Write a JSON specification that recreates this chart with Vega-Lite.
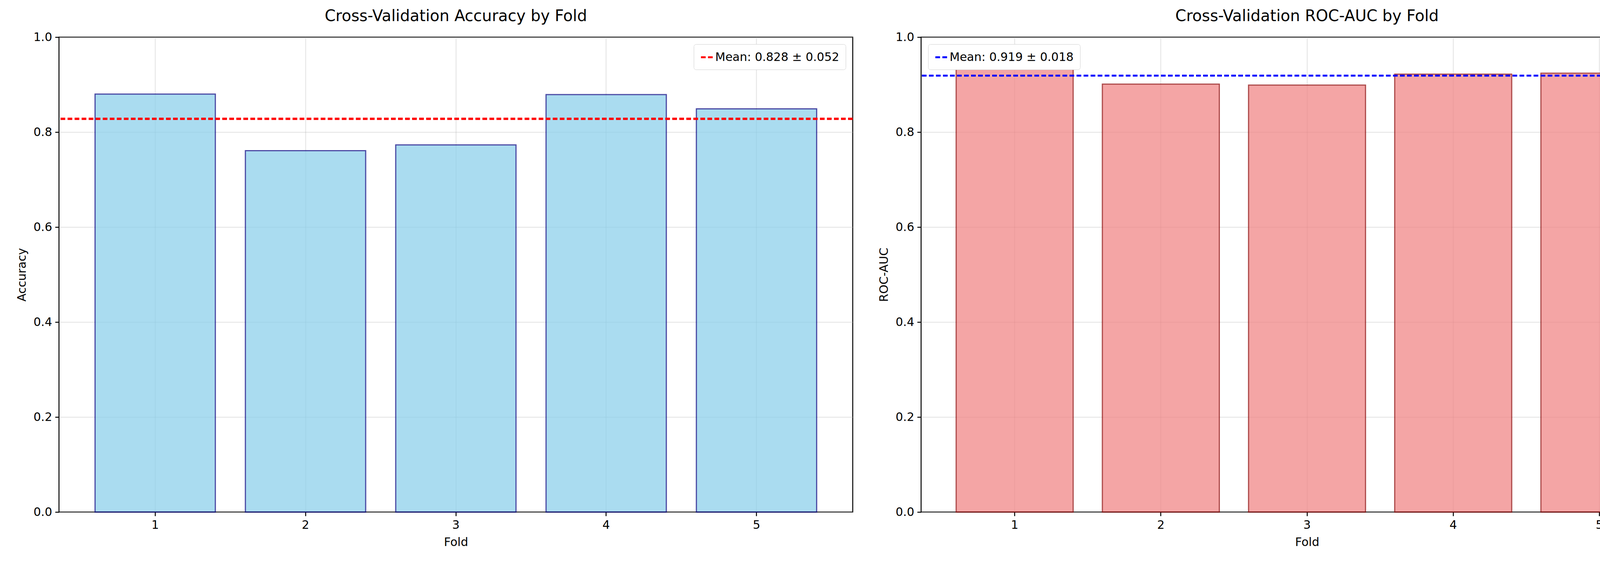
{
  "$schema": "https://vega.github.io/schema/vega-lite/v6.json",
  "background": "white",
  "padding": {"left": 40, "top": 20, "right": 30, "bottom": 20},
  "datasets": {
    "acc": [
      {"Fold": 1, "Accuracy": 0.880},
      {"Fold": 2, "Accuracy": 0.761},
      {"Fold": 3, "Accuracy": 0.773},
      {"Fold": 4, "Accuracy": 0.879},
      {"Fold": 5, "Accuracy": 0.849}
    ],
    "auc": [
      {"Fold": 1, "AUC": 0.950},
      {"Fold": 2, "AUC": 0.901},
      {"Fold": 3, "AUC": 0.899},
      {"Fold": 4, "AUC": 0.922},
      {"Fold": 5, "AUC": 0.924}
    ]
  },
  "config": {
    "font": "DejaVu Sans",
    "view": {"stroke": "black", "strokeWidth": 2.5},
    "title": {"fontSize": 40, "fontWeight": "normal", "offset": 18},
    "axis": {
      "labelFontSize": 30, "titleFontSize": 30, "titleFontWeight": "normal",
      "labelColor": "black", "titleColor": "black",
      "tickColor": "black", "tickSize": 10, "tickWidth": 2.5,
      "domain": false, "gridColor": "#b0b0b0", "gridOpacity": 0.3, "gridWidth": 2.5,
      "labelPadding": 8, "titlePadding": 14
    },
    "legend": {
      "labelFontSize": 30, "labelLimit": 0, "fillColor": "white", "strokeColor": "#d0d0d0",
      "padding": 16, "cornerRadius": 6, "symbolType": "stroke",
      "symbolStrokeWidth": 5, "symbolSize": 900, "symbolDash": [12, 6], "offset": 18, "title": null
    },
    "concat": {"spacing": 60}
  },
  "hconcat": [
    {
      "width": 2032, "height": 1215,
      "title": "Cross-Validation Accuracy by Fold",
      "data": {"name": "acc"},
      "layer": [
        {
          "mark": {"type": "bar", "color": "skyblue", "opacity": 0.7, "stroke": "navy", "strokeWidth": 3},
          "encoding": {
            "x": {"field": "Fold", "type": "ordinal", "title": "Fold",
                  "scale": {"paddingInner": 0.2, "paddingOuter": 0.24},
                  "axis": {"labelAngle": 0, "grid": true}},
            "y": {"field": "Accuracy", "type": "quantitative", "title": "Accuracy",
                  "scale": {"domain": [0, 1]}, "axis": {"values": [0, 0.2, 0.4, 0.6, 0.8, 1.0], "format": ".1f"}}
          }
        },
        {
          "mark": {"type": "rule", "strokeDash": [12, 6], "strokeWidth": 5},
          "encoding": {
            "y": {"datum": 0.828},
            "color": {"datum": "Mean: 0.828 ± 0.052", "type": "nominal",
                      "scale": {"range": ["red"]},
                      "legend": {"orient": "top-right"}}
          }
        }
      ]
    },
    {
      "width": 1976, "height": 1215,
      "title": "Cross-Validation ROC-AUC by Fold",
      "data": {"name": "auc"},
      "resolve": {"scale": {"color": "independent"}},
      "layer": [
        {
          "mark": {"type": "bar", "color": "lightcoral", "opacity": 0.7, "stroke": "darkred", "strokeWidth": 3},
          "encoding": {
            "x": {"field": "Fold", "type": "ordinal", "title": "Fold",
                  "scale": {"paddingInner": 0.2, "paddingOuter": 0.24},
                  "axis": {"labelAngle": 0, "grid": true}},
            "y": {"field": "AUC", "type": "quantitative", "title": "ROC-AUC",
                  "scale": {"domain": [0, 1]}, "axis": {"values": [0, 0.2, 0.4, 0.6, 0.8, 1.0], "format": ".1f"}}
          }
        },
        {
          "mark": {"type": "rule", "strokeDash": [12, 6], "strokeWidth": 5},
          "encoding": {
            "y": {"datum": 0.919},
            "color": {"datum": "Mean: 0.919 ± 0.018", "type": "nominal",
                      "scale": {"range": ["blue"]},
                      "legend": {"orient": "top-left"}}
          }
        }
      ]
    }
  ],
  "resolve": {"scale": {"color": "independent"}, "legend": {"color": "independent"}}
}
